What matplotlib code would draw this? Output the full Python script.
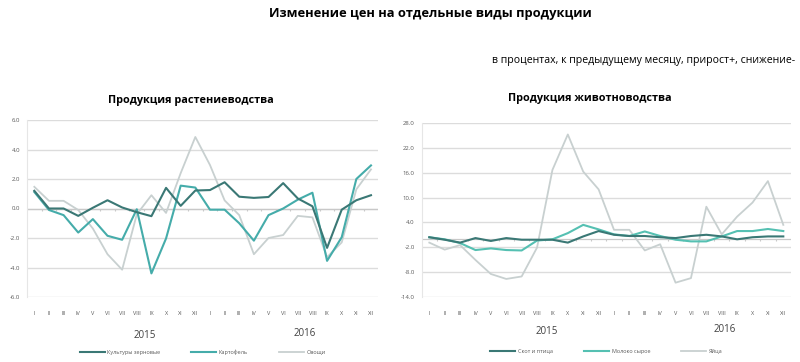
import numpy as np
import matplotlib
matplotlib.use('Agg')
import matplotlib.pyplot as plt

plt.rcParams['font.family'] = ['Open Sans', 'DejaVu Sans']

# месяцы 2015-2016
months = ['I', 'II', 'III', 'IV', 'V', 'VI', 'VII', 'VIII', 'IX', 'X', 'XI', 'XII'] * 2
years = ['2015', '2016']

# продукция растениеводства, % к предыдущему месяцу
grain = [1.2, 0.0, 0.0, -0.5, 0.05, 0.56, 0.07, -0.25, -0.52, 1.4, 0.18, 1.22,
         1.25, 1.78, 0.8, 0.72, 0.78, 1.72, 0.68, 0.15, -2.67, -0.08, 0.56, 0.9]
potato = [1.12, -0.1, -0.45, -1.63, -0.72, -1.85, -2.12, -0.05, -4.4, -2.03, 1.55, 1.42,
          -0.08, -0.08, -1.0, -2.18, -0.45, 0.0, 0.6, 1.07, -3.55, -1.95, 2.0, 2.92]
vegetables = [1.47, 0.52, 0.52, -0.1, -1.36, -3.1, -4.15, -0.4, 0.9, -0.3, 2.4, 4.85,
              2.95, 0.55, -0.45, -3.1, -2.0, -1.8, -0.5, -0.6, -3.3, -2.3, 1.3, 2.65]

# продукция животноводства, % к предыдущему месяцу
meat = [0.4, -0.2, -0.9, 0.2, -0.5, 0.2, -0.2, -0.2, -0.2, -0.9, 0.6, 1.9,
        1.0, 0.7, 0.7, 0.4, 0.2, 0.7, 1.0, 0.6, -0.1, 0.4, 0.6, 0.6]
milk = [0.4, -0.1, -1.0, -2.7, -2.3, -2.7, -2.8, -0.4, -0.1, 1.4, 3.4, 2.3,
        1.1, 0.7, 1.8, 0.7, -0.2, -0.6, -0.6, 0.6, 1.9, 1.9, 2.4, 1.9]
eggs = [-0.9, -2.6, -1.5, -5.1, -8.5, -9.7, -9.1, -2.1, 16.7, 25.3, 16.3, 12.0,
        2.2, 2.2, -2.8, -1.3, -10.6, -9.5, 7.8, 1.1, 5.4, 8.8, 14.0, 3.4]

c_dark = '#3a7875'
c_teal = '#45acaa'
c_teal2 = '#55c0b2'
c_gray = '#c8d0d0'
tick_col = '#595959'

fig = plt.figure(figsize=(8, 3.62), dpi=100)
ax1 = fig.add_axes([27/800, 1-297/362, (378.3-27)/800, (297-120)/362])
ax2 = fig.add_axes([421.6/800, 1-296.7/362, (791-421.6)/800, (296.7-123.3)/362])

x = np.arange(24)


def style(ax, yticks, fmt):
    ax.set_xlim(-0.5, 23.5)
    ax.set_ylim(yticks[0], yticks[-1])
    ax.set_yticks(yticks)
    ax.set_yticklabels([fmt % v for v in yticks], fontsize=4.3, color=tick_col)
    ax.tick_params(axis='y', length=0, pad=5)
    ax.grid(axis='y', color='#dcdcdc', linewidth=1.0)
    ax.set_axisbelow(True)
    for s in ['top', 'right', 'bottom']:
        ax.spines[s].set_visible(False)
    ax.spines['left'].set_color('#e6e6e6')
    ax.spines['left'].set_linewidth(0.8)
    # ось на нуле с засечками
    ax.set_xticks([])
    ax.axhline(0, color='#c8c8c8', linewidth=0.9, zorder=1)
    ax.vlines(np.arange(0.5, 23.5, 1), 0, -0.012 * (yticks[-1] - yticks[0]),
              color='#c8c8c8', linewidth=0.8, zorder=1)
    sec = ax.secondary_xaxis('bottom')
    sec.set_xticks(x)
    sec.set_xticklabels(months, fontsize=4.0, color=tick_col)
    sec.tick_params(length=0, pad=10)
    sec.spines['bottom'].set_visible(False)


style(ax1, [-6, -4, -2, 0, 2, 4, 6], '%.1f')
style(ax2, [-14, -8, -2, 4, 10, 16, 22, 28], '%.1f')

ax1.plot(x, vegetables, color=c_gray, linewidth=1.3, label='Овощи', zorder=3)
ax1.plot(x, potato, color=c_teal, linewidth=1.5, label='Картофель', zorder=4)
ax1.plot(x, grain, color=c_dark, linewidth=1.5, label='Культуры зерновые', zorder=5)

ax2.plot(x, eggs, color=c_gray, linewidth=1.3, label='Яйца', zorder=3)
ax2.plot(x, milk, color=c_teal2, linewidth=1.5, label='Молоко сырое', zorder=4)
ax2.plot(x, meat, color=c_dark, linewidth=1.5, label='Скот и птица', zorder=5)

for ax in (ax1, ax2):
    h, l = ax.get_legend_handles_labels()
    ax.legend(h[::-1], l[::-1], ncol=3, loc='upper center',
              bbox_to_anchor=(0.5, -0.27), frameon=False, fontsize=4.0,
              handlelength=4.5, columnspacing=5.5, handletextpad=0.5,
              labelcolor=tick_col)

# заголовки
fig.text(430/800, 1-14/362, 'Изменение цен на отдельные виды продукции',
         ha='center', va='center', fontsize=9.3, fontweight='bold')
fig.text(795/800, 1-60/362, 'в процентах, к предыдущему месяцу, прирост+, снижение-',
         ha='right', va='center', fontsize=7.6)
fig.text(191/800, 1-100/362, 'Продукция растениеводства',
         ha='center', va='center', fontsize=7.8, fontweight='bold')
fig.text(590/800, 1-98/362, 'Продукция животноводства',
         ha='center', va='center', fontsize=7.8, fontweight='bold')

# годы
fig.text(145/800, 1-335/362, years[0], ha='center', va='center', fontsize=7, color='#404040')
fig.text(305/800, 1-333/362, years[1], ha='center', va='center', fontsize=7, color='#404040')
fig.text(547/800, 1-332/362, years[0], ha='center', va='center', fontsize=7, color='#404040')
fig.text(725/800, 1-329/362, years[1], ha='center', va='center', fontsize=7, color='#404040')

fig.savefig('out.png', dpi=100, facecolor='white')
